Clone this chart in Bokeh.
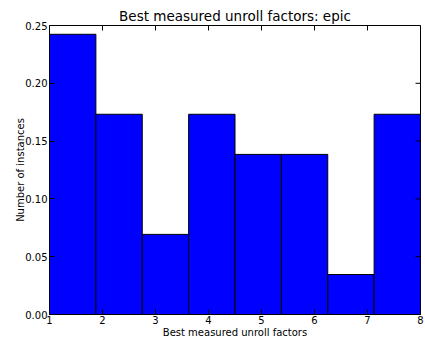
import math
from bokeh.plotting import figure
from bokeh.models import FixedTicker, NumeralTickFormatter, Range1d
from bokeh.embed import file_html
from bokeh.resources import INLINE

edges = [1.0, 1.875, 2.75, 3.625, 4.5, 5.375, 6.25, 7.125, 8.0]
density = [0.2424, 0.1732, 0.0693, 0.1732, 0.1385, 0.1385, 0.0346, 0.1732]
x_ticks = [1, 2, 3, 4, 5, 6, 7, 8]
y_ticks = [0.0, 0.05, 0.10, 0.15, 0.20, 0.25]

FONT = "DejaVu Sans"

p = figure(width=425, height=343, output_backend="svg", toolbar_location=None,
           x_range=Range1d(x_ticks[0], x_ticks[-1]), y_range=Range1d(y_ticks[0], y_ticks[-1]),
           x_axis_label="Best measured unroll factors", y_axis_label="Number of instances",
           min_border_left=49, min_border_right=5, min_border_top=25, min_border_bottom=29)

p.title.text = "Best measured unroll factors: epic"
p.title.align = "center"
p.title.text_font = FONT
p.title.text_font_size = "13.5px"
p.title.text_font_style = "normal"
p.title.text_color = "black"
p.title.standoff = 4
p.title.offset = 16

p.quad(left=edges[:-1], right=edges[1:], bottom=0, top=density,
       fill_color="#0000ff", line_color="black", line_width=1)

# inward tick marks on the top and right edges of the frame
p.scatter(x=x_ticks, y=[y_ticks[-1]] * len(x_ticks), marker="dash", size=10,
          angle=math.pi / 2, line_color="black", line_width=1)
p.scatter(x=[x_ticks[-1]] * len(y_ticks), y=y_ticks, marker="dash", size=10,
          line_color="black", line_width=1)

p.grid.visible = False
p.outline_line_color = "black"
p.outline_line_width = 1
p.background_fill_color = "white"
p.border_fill_color = "white"

p.xaxis.ticker = FixedTicker(ticks=x_ticks)
p.yaxis.ticker = FixedTicker(ticks=y_ticks)
p.yaxis.formatter = NumeralTickFormatter(format="0.00")

for ax in p.xaxis + p.yaxis:
    ax.major_tick_in = 5
    ax.major_tick_out = 0
    ax.minor_tick_line_color = None
    ax.axis_line_color = "black"
    ax.major_tick_line_color = "black"
    ax.major_label_text_font = FONT
    ax.major_label_text_font_size = "10px"
    ax.major_label_text_color = "black"
    ax.axis_label_text_font = FONT
    ax.axis_label_text_font_size = "10px"
    ax.axis_label_text_font_style = "normal"
    ax.axis_label_text_color = "black"
    ax.major_label_standoff = 2
    ax.axis_label_standoff = -4

p.xaxis.major_label_standoff = 1
p.xaxis.axis_label_standoff = 0

open("out.html", "w").write(file_html(p, INLINE))
